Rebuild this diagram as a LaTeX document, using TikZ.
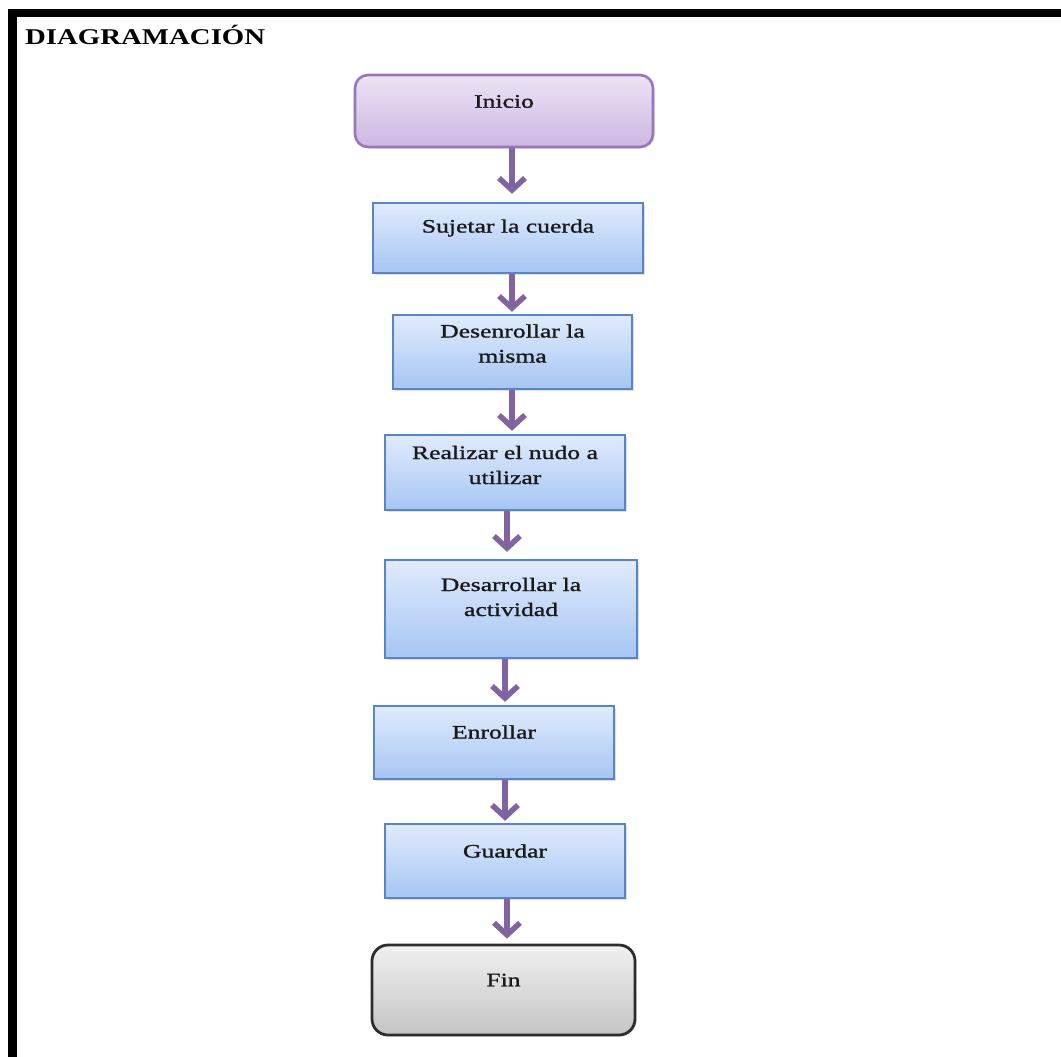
\documentclass[tikz,border=0pt]{standalone}
\usepackage{fontspec}
\setmainfont{Liberation Serif}
\newfontfamily\nodefont[FakeStretch=1.35,FakeBold=1.2]{Liberation Serif}
\newfontfamily\titlefont[FakeStretch=1.28]{Liberation Serif}
\usetikzlibrary{arrows.meta,shadows}
\definecolor{arrpurple}{RGB}{128,100,162}
\definecolor{inicioTop}{RGB}{236,227,245}
\definecolor{inicioBot}{RGB}{205,182,226}
\definecolor{inicioLine}{RGB}{150,120,185}
\definecolor{boxTop}{RGB}{224,235,252}
\definecolor{boxBot}{RGB}{166,197,243}
\definecolor{boxLine}{RGB}{88,133,198}
\definecolor{finTop}{RGB}{240,240,240}
\definecolor{finBot}{RGB}{196,196,196}
\definecolor{finLine}{RGB}{45,45,45}
\begin{document}
\begin{tikzpicture}[x=1pt,y=-1pt,
  softshadow/.style={drop shadow={opacity=0.25,shadow xshift=1.5pt,shadow yshift=-1.5pt}},
  stepbox/.style={rectangle, draw=boxLine, line width=2.4pt, top color=boxTop, bottom color=boxBot, softshadow, inner sep=0pt},
  startbox/.style={rectangle, rounded corners=13pt, draw=inicioLine, line width=2.6pt, top color=inicioTop, bottom color=inicioBot, softshadow, inner sep=0pt},
  endbox/.style={rectangle, rounded corners=16pt, draw=finLine, line width=2.8pt, top color=finTop, bottom color=finBot, softshadow, inner sep=0pt},
  txt/.style={font=\nodefont\fontsize{19}{25}\selectfont, align=center, inner sep=0pt, text=black!90},
  arr/.style={draw=arrpurple, line width=5.5pt, -{Straight Barb[length=12pt,width=26pt]}}
]
\useasboundingbox (0,0) rectangle (1061,1057);
\fill[white] (0,0) rectangle (1061,1057);
% frame
\draw[line width=8.5pt, line join=miter] (12.5,1057) -- (12.5,13) -- (1061,13);
% title
\node[anchor=base west, inner sep=0pt, font=\titlefont\bfseries\fontsize{22.5}{26}\selectfont] (title) at (25,45) {DIAGRAMACIÓN};

% boxes
\node[startbox, minimum width=298pt, minimum height=72pt] (ini) at (504,111) {};
\node[stepbox, minimum width=270pt, minimum height=70pt] (suj) at (508,238) {};
\node[stepbox, minimum width=239pt, minimum height=74pt] (des) at (512.5,352) {};
\node[stepbox, minimum width=240pt, minimum height=75pt] (rea) at (505,472.5) {};
\node[stepbox, minimum width=252pt, minimum height=98pt] (act) at (511,609) {};
\node[stepbox, minimum width=240pt, minimum height=73pt] (enr) at (494,742.5) {};
\node[stepbox, minimum width=240pt, minimum height=74pt] (gua) at (505,861) {};
\node[endbox, minimum width=263pt, minimum height=90pt] (fin) at (503.5,990) {};

% texts
\node[txt] (tini) at ([yshift=9.5pt]ini.center) {Inicio};
\node[txt] (tsuj) at ([yshift=10pt]suj.center) {Sujetar la cuerda};
\node[txt] (tdes) at ([yshift=8.5pt]des.center) {Desenrollar la\\misma};
\node[txt] (trea) at ([yshift=7.5pt]rea.center) {Realizar el nudo a\\utilizar};
\node[txt] (tact) at ([yshift=12pt]act.center) {Desarrollar la\\actividad};
\node[txt] (tenr) at ([yshift=10.5pt]enr.center) {Enrollar};
\node[txt] (tgua) at ([yshift=10pt]gua.center) {Guardar};
\node[txt] (tfin) at ([yshift=10pt]fin.center) {Fin};

% arrow columns
\coordinate (c1) at (512,0);
\coordinate (c2) at (507,0);
\coordinate (c3) at (505,0);

\draw[arr, shorten >=8pt] (ini.south -| c1) -- (suj.north -| c1);
\draw[arr, shorten >=2pt] (suj.south -| c1) -- (des.north -| c1);
\draw[arr, shorten >=3pt] (des.south -| c1) -- (rea.north -| c1);
\draw[arr, shorten >=7pt] (rea.south -| c2) -- (act.north -| c2);
\draw[arr, shorten >=3pt] (act.south -| c3) -- (enr.north -| c3);
\draw[arr, shorten >=2pt] (enr.south -| c3) -- (gua.north -| c3);
\draw[arr, shorten >=5pt] (gua.south -| c2) -- (fin.north -| c2);
\end{tikzpicture}
\end{document}
